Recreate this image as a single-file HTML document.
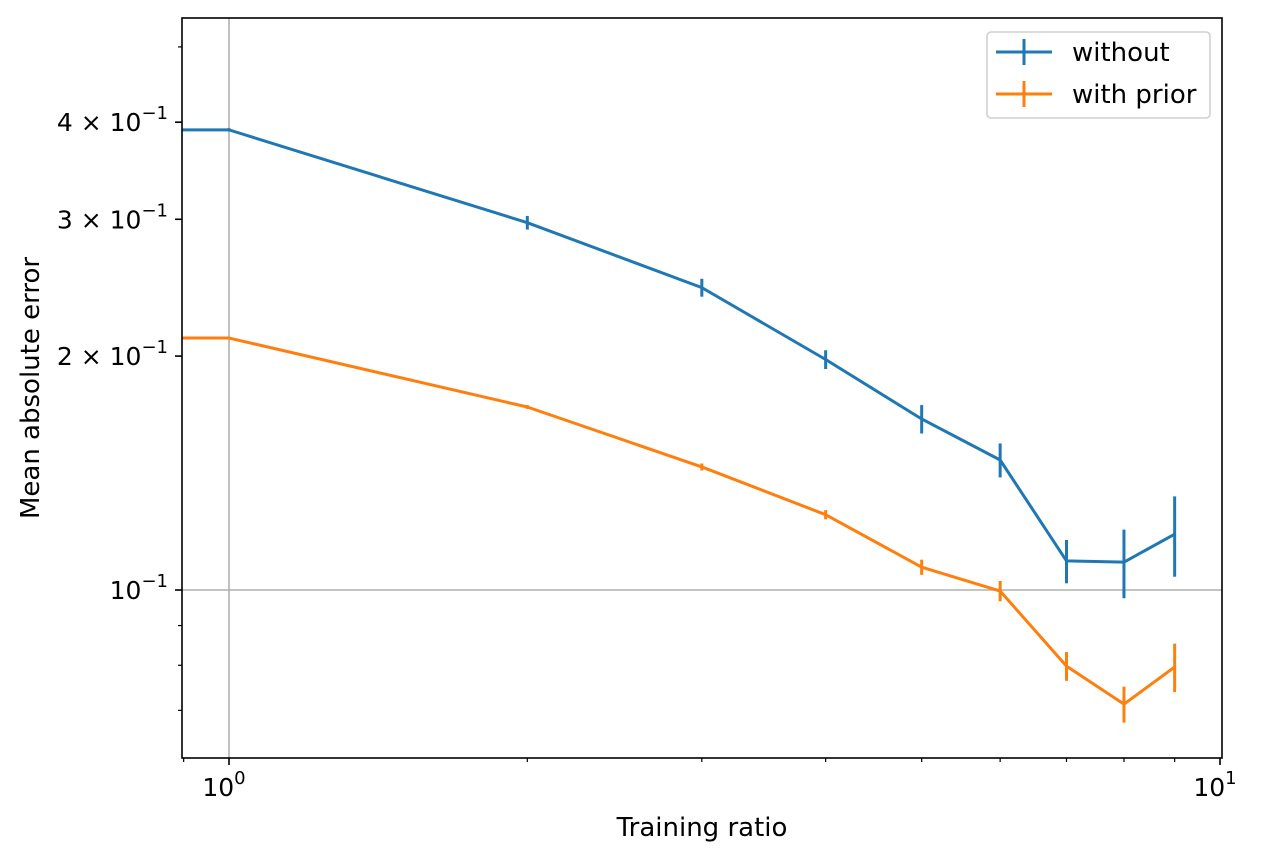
<!DOCTYPE html>
<html><head><meta charset="utf-8"><style>body{margin:0;background:#fff}svg text{font-family:"DejaVu Sans","Liberation Sans",sans-serif;fill:#000}</style></head>
<body>
<svg id="chart" width="1263" height="861" xmlns="http://www.w3.org/2000/svg">
<g id="plot"></g>
</svg>
<script>
const xs = [1, 2, 3, 4, 5, 6, 7, 8, 9];
const withoutVals = [0.391, 0.297, 0.245, 0.198, 0.166, 0.147, 0.109, 0.1086, 0.118];
const withoutErr = [0.002, 0.006, 0.0065, 0.0055, 0.007, 0.0074, 0.007, 0.011, 0.014];
const priorVals = [0.211, 0.172, 0.144, 0.125, 0.107, 0.0997, 0.0798, 0.0713, 0.0796];
const priorErr = [0.0005, 0.001, 0.0015, 0.0017, 0.0024, 0.003, 0.0034, 0.0038, 0.0057];
const yMajorLabels = [{v:0.1,m:"",e:"−1"},{v:0.2,m:"2",e:"−1"},{v:0.3,m:"3",e:"−1"},{v:0.4,m:"4",e:"−1"}];
const yMinorTicks = [0.07, 0.08, 0.09, 0.5];
const xMinorTicks = [0.9, 2, 3, 4, 5, 6, 7, 8, 9];

const L=182,R=1222,T=18,B=758;
const X=v=>229+Math.log10(v)*991;
const Y=v=>590-Math.log10(v/0.1)*777;
const NS="http://www.w3.org/2000/svg";
const g=document.getElementById('plot');
function el(tag,attrs,parent){const e=document.createElementNS(NS,tag);for(const k in attrs)e.setAttribute(k,attrs[k]);(parent||g).appendChild(e);return e;}

let e;
e=el('line',{x1:X(1),x2:X(1),y1:T,y2:B,stroke:'#b0b0b0','stroke-width':1.6});


e=el('line',{x1:L,x2:R,y1:Y(0.1),y2:Y(0.1),stroke:'#b0b0b0','stroke-width':1.6});



function series(vals,errs,color,name){
  const pts=xs.map((x,i)=>X(x)+','+Y(vals[i]));
  const p=el('polyline',{points:L+','+Y(vals[0])+' '+pts.join(' '),fill:'none',stroke:color,'stroke-width':3,'stroke-linejoin':'round'});
  
  
  xs.forEach((x,i)=>{
    const b=el('line',{x1:X(x),x2:X(x),y1:Y(vals[i]+errs[i]),y2:Y(vals[i]-errs[i]),stroke:color,'stroke-width':3});
    
    
  });
}
series(withoutVals,withoutErr,'#1f77b4','without');
series(priorVals,priorErr,'#ff7f0e','with-prior');

e=el('rect',{x:L,y:T,width:R-L,height:B-T,fill:'none',stroke:'#000','stroke-width':1.6});



yMajorLabels.forEach(t=>{
  const y=Y(t.v);
  el('line',{x1:L-7,x2:L,y1:y,y2:y,stroke:'#000','stroke-width':1.6});
  const tx=el('text',{x:168,y:y+9,'text-anchor':'end','font-size':25});
  
  
  const base=(t.m?t.m+' × 10':'10');
  tx.textContent=base;
  const s=el('tspan',{dy:-12,'font-size':18},tx);s.textContent=t.e;
});
yMinorTicks.forEach(v=>el('line',{x1:L-4,x2:L,y1:Y(v),y2:Y(v),stroke:'#000','stroke-width':1.2}));
xMinorTicks.forEach(v=>el('line',{x1:X(v),x2:X(v),y1:B,y2:B+4,stroke:'#000','stroke-width':1.2}));
[[1,'10'],[10,'10']].forEach(([v,b])=>{
  el('line',{x1:X(v),x2:X(v),y1:B,y2:B+7,stroke:'#000','stroke-width':1.6});
  const tx=el('text',{x:X(v)-5,y:B+38,'text-anchor':'middle','font-size':25});
  
  
  tx.textContent=b;
  const s=el('tspan',{dy:-12,'font-size':18},tx);s.textContent=v===1?'0':'1';
});
e=el('text',{x:702,y:836,'text-anchor':'middle','font-size':26});
e.textContent='Training ratio';


e=el('text',{x:39,y:388,'text-anchor':'middle','font-size':26,transform:'rotate(-90 39 388)'});
e.textContent='Mean absolute error';



e=el('rect',{x:987,y:32,width:223,height:86,rx:4,fill:'#fff','fill-opacity':0.8,stroke:'#d0d0d0','stroke-width':1.6});


[['without','#1f77b4',52],['with prior','#ff7f0e',94]].forEach(([lab,c,y])=>{
  el('line',{x1:996,x2:1052,y1:y,y2:y,stroke:c,'stroke-width':3});
  el('line',{x1:1024,x2:1024,y1:y-13,y2:y+13,stroke:c,'stroke-width':3});
  const t=el('text',{x:1072,y:y+9,'font-size':26});
  t.textContent=lab;
  
  
});
</script>
</body></html>
